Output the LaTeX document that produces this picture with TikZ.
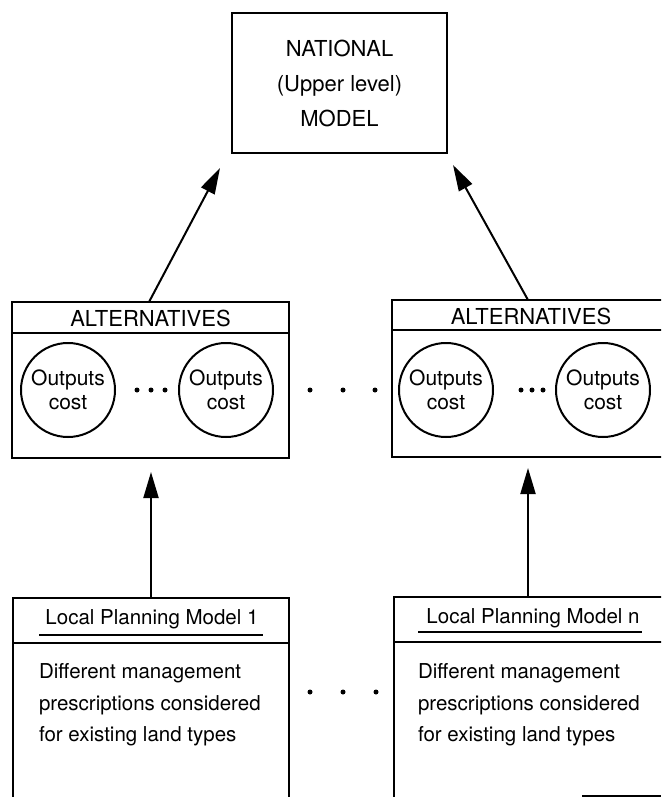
\documentclass[tikz,border=0pt]{standalone}
\usepackage{fontspec}
\setmainfont{TeX Gyre Heros}
\usetikzlibrary{arrows.meta}
\begin{document}
\begin{tikzpicture}[x=1pt,y=-1pt,
  line width=2pt,
  every node/.style={font=\fontsize{20.5}{24}\selectfont},
  boxr/.style={draw, rectangle, inner sep=0pt},
  circ/.style={draw, circle, minimum size=94pt, inner sep=0pt, align=center, font=\fontsize{21}{23.5}\selectfont},
  dotn/.style={fill, circle, inner sep=0pt, minimum size=5pt},
  arr/.style={-{Triangle[length=26pt,width=15pt]}},
  title/.style={inner sep=0pt},
  caps/.style={inner sep=0pt, font=\fontsize{22}{24}\selectfont}]
\clip (0,0) rectangle (661,797);
\fill[white] (0,0) rectangle (661,797);

% National model
\node[boxr, minimum width=215pt, minimum height=140pt, align=center,
      font=\fontsize{22}{35}\selectfont] (nat) at (339.5,83)
      {NATIONAL\\(Upper level)\\MODEL};

% Alternatives boxes
\node[boxr, minimum width=277pt, minimum height=156pt] (altL) at (150.5,380) {};
\draw (12,333) -- (289,333);
\node[caps] (altLt) at (150.5,318) {ALTERNATIVES};
\node[boxr, minimum width=308pt, minimum height=157pt] (altR) at (546,378.5) {};
\draw (392,330) -- (700,330);
\node[caps] (altRt) at (531,316) {ALTERNATIVES};

% circles
\node[circ] (c1) at (68,390) {Outputs\\cost};
\node[circ] (c2) at (226,390) {Outputs\\cost};
\node[circ] (c3) at (446,390) {Outputs\\cost};
\node[circ] (c4) at (603,390) {Outputs\\cost};

% dots
\foreach \x/\n in {137/a,151/b,165/c} \node[dotn] (dL\n) at (\x,390) {};
\foreach \x/\n in {310/a,343/b,375/c} \node[dotn] (dM\n) at (\x,390) {};
\foreach \x/\n in {521/a,532/b,543/c} \node[dotn] (dR\n) at (\x,390) {};
\foreach \x/\n in {310/a,343/b,376/c} \node[dotn] (dB\n) at (\x,692) {};

% Local planning boxes
\node[boxr, minimum width=276pt, minimum height=252pt] (lpL) at (151,724) {};
\draw (13,643) -- (289,643);
\node[title] (lpLt) at (152,619) {Local Planning Model 1};
\draw (39,635) -- (263,635);
\node[title, anchor=west, align=left, font=\fontsize{20.5}{31.5}\selectfont] (lpLb) at (38,705)
  {Different management\\prescriptions considered\\for existing land types};

\node[boxr, minimum width=306pt, minimum height=253pt] (lpR) at (547,723.5) {};
\draw (394,642) -- (700,642);
\node[title] (lpRt) at (533,618) {Local Planning Model n};
\draw (418,632) -- (642,632);
\node[title, anchor=west, align=left, font=\fontsize{20.5}{31.5}\selectfont] (lpRb) at (417,705)
  {Different management\\prescriptions considered\\for existing land types};
\draw (582,796) -- (661,796);

% arrow endpoints
\coordinate (a1s) at (149,302);
\coordinate (a1e) at (220,168);
\coordinate (a2s) at (528,300);
\coordinate (a2e) at (453,165);
\coordinate (a3s) at (151,598);
\coordinate (a3e) at (151,472);
\coordinate (a4s) at (528,597);
\coordinate (a4e) at (528,468);
\draw[arr] (a1s) -- (a1e);
\draw[arr] (a2s) -- (a2e);
\draw[arr] (a3s) -- (a3e);
\draw[arr] (a4s) -- (a4e);
\end{tikzpicture}
\end{document}
